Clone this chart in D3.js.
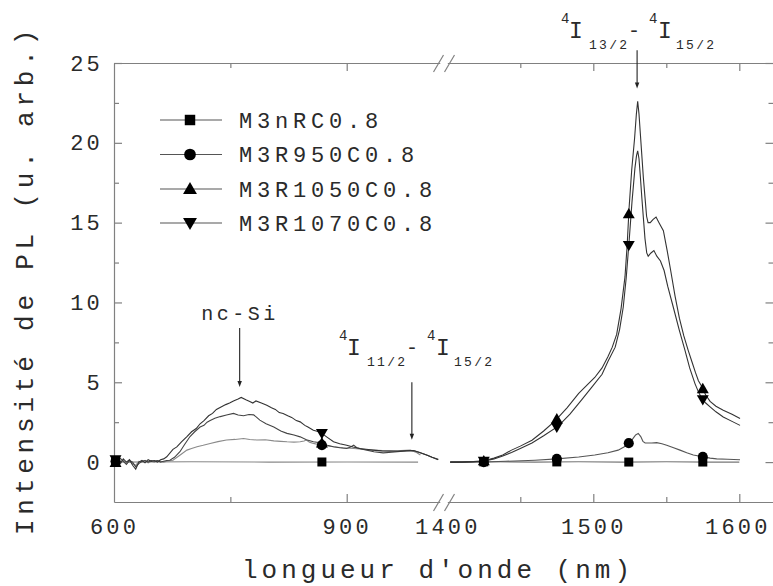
<!DOCTYPE html>
<html><head><meta charset="utf-8">
<script src="https://cdn.jsdelivr.net/npm/d3@7"></script>
<style>body{margin:0;background:#fff}svg{display:block}</style>
</head><body>
<svg id="c" width="773" height="586"></svg>
<script>
// ---------- data ----------
const seriesNames = ["M3nRC0.8", "M3R950C0.8", "M3R1050C0.8", "M3R1070C0.8"];
const seriesSymbols = ["square", "circle", "up", "down"];

// left panel (600 - 1020 nm)
const leftSquare = [[600,0],[700,0.02],[800,0],[900,0.01],[992,0]];
const leftCircle = [[600,-0.05],[604,0.15],[608,0],[612,0.1],[616,-0.1],[620,0.05],[624,-0.1],[628,-0.2],[632,0.05],[636,0],[640,0.1],[644,-0.05],[648,0.05],[652,0],[656,0.1],[660,0.05],[664,0],[668,0.05],[676,0.12],[684,0.4],[694,0.75],[700,0.85],[707,0.96],[715,1.05],[724,1.17],[734,1.28],[745,1.38],[756,1.42],[767,1.48],[775,1.42],[784,1.38],[795,1.4],[806,1.33],[815,1.3],[823,1.27],[832,1.25],[840,1.27],[845,1.32],[848,1.38],[852,1.25],[857,1.17],[868,1.06],[883,0.96],[895,0.9],[909,0.85],[920,0.8],[934,0.75],[946,0.72],[960,0.71],[970,0.73],[982,0.75],[990,0.6],[995,0.44]];
const leftUp = [[600,0.05],[604,-0.1],[608,0.25],[612,0.05],[616,-0.15],[620,0.1],[624,0],[628,-0.3],[632,-0.1],[636,0.05],[640,0.1],[644,0],[648,0.1],[652,0.05],[656,0.1],[660,0],[664,0.05],[668,0.1],[672,0.12],[678,0.3],[685,0.65],[691,1.1],[698,1.6],[704,1.9],[711,2.2],[716,2.3],[720,2.5],[724,2.6],[730,2.75],[737,2.85],[745,2.95],[754,3.05],[760,2.95],[767,2.9],[774,2.98],[780,2.96],[784,2.8],[788,2.63],[796,2.4],[806,2.2],[815,1.95],[823,1.8],[832,1.7],[840,1.58],[848,1.4],[857,1.27],[868,1.2],[875,1.05],[883,0.96],[891,0.9],[900,0.85],[905,0.95],[909,1.06],[913,0.9],[920,0.8],[926,0.75],[935,0.65],[947,0.58],[958,0.62],[969,0.67],[978,0.7],[986,0.72],[994,0.6],[1003,0.44],[1010,0.3],[1018,0.17]];
const leftDown = [[600,0],[604,0.3],[608,-0.1],[612,0.2],[616,0],[620,0.15],[624,-0.2],[628,-0.45],[632,0],[636,0.1],[640,-0.05],[644,0.15],[648,0.05],[652,0.1],[656,0],[660,0.15],[664,0.2],[668,0.33],[676,0.8],[681,0.95],[687,1.27],[694,1.6],[700,1.9],[706,2.1],[711,2.4],[716,2.6],[722,2.9],[727,3.05],[732,3.3],[738,3.45],[744,3.6],[749,3.7],[754,3.83],[760,3.95],[764,4.05],[770,3.9],[775,3.8],[779,3.7],[783,3.83],[790,3.7],[797,3.56],[803,3.4],[808,3.3],[813,3.1],[818,3.04],[824,2.9],[829,2.8],[835,2.6],[840,2.52],[846,2.3],[850,2.2],[857,2.0],[864,1.9],[868,1.8],[875,1.55],[883,1.27],[891,1.15],[900,1.06],[908,0.95],[917,0.85],[925,0.8],[934,0.75],[945,0.7],[956,0.69],[966,0.68],[977,0.71],[986,0.72],[994,0.6],[1003,0.44],[1010,0.3],[1018,0.15]];

// right panel (1400 - 1623 nm)
const rightSquare = [[1402,0],[1430,0.02],[1460,0],[1490,0.02],[1520,0],[1550,0.02],[1580,0],[1600,0]];
const rightCircle = [[1402,0],[1420,0.02],[1425,0],[1440,0.05],[1460,0.12],[1475,0.2],[1490,0.32],[1501,0.44],[1510,0.58],[1517,0.75],[1521,0.95],[1524.5,1.2],[1527,1.45],[1529,1.7],[1530.8,1.8],[1532.5,1.6],[1534,1.3],[1535.5,1.2],[1540,1.2],[1543.4,1.22],[1547,1.15],[1550.3,1.06],[1555,0.9],[1559.4,0.75],[1564,0.58],[1568.5,0.44],[1574.2,0.35],[1580,0.25],[1584.5,0.2],[1592,0.18],[1600.5,0.15]];
const rightUp = [[1402,0],[1410,0],[1418,0.03],[1425,0.08],[1432,0.25],[1438,0.45],[1444,0.75],[1450,1.0],[1458,1.37],[1466,1.95],[1474,2.6],[1482,3.4],[1490,4.3],[1496,4.85],[1501,5.3],[1506,5.9],[1510,6.6],[1513,7.2],[1516,8.0],[1519,9.6],[1521.7,11.6],[1523.2,13.6],[1524.5,15.9],[1526.3,18.3],[1528.3,20.3],[1529.5,21.8],[1530.4,22.6],[1531.3,21.8],[1532.2,20.6],[1533.1,19.4],[1534.3,17.8],[1535.4,16.6],[1536.5,15.4],[1537.5,15.0],[1539,15.0],[1541,15.2],[1543,15.35],[1545,15.0],[1548,14.5],[1550.5,13.3],[1553,12.0],[1556,10.4],[1559,9.0],[1562,7.9],[1565,7.0],[1567.5,6.3],[1570,5.6],[1572,5.1],[1574.2,4.75],[1577,4.2],[1580,3.8],[1584,3.5],[1589,3.25],[1595,3.0],[1600.5,2.73]];
const rightDown = [[1402,0],[1410,0],[1418,0.02],[1425,0.05],[1432,0.2],[1438,0.38],[1444,0.6],[1450,0.85],[1458,1.2],[1466,1.65],[1476,2.25],[1484,3.0],[1492,3.9],[1499,4.7],[1506,5.5],[1510,6.3],[1515,7.2],[1518,8.3],[1520.5,9.7],[1522.5,11.5],[1524.5,13.8],[1526.5,16.3],[1528.5,18.4],[1529.6,19.2],[1530.4,19.5],[1531.3,19.0],[1532.3,17.8],[1533.3,16.5],[1534.3,15.3],[1535.4,14.0],[1536.6,13.1],[1537.6,12.9],[1539.5,13.1],[1541.5,13.25],[1543.5,12.9],[1546,12.6],[1548.5,12.0],[1551,11.0],[1554.8,9.7],[1558.8,8.3],[1562.8,7.0],[1566,5.9],[1569.7,4.9],[1572,4.4],[1574.2,4.0],[1577,3.7],[1580,3.46],[1584,3.15],[1589,2.83],[1595,2.55],[1600.5,2.3]];

const markerNmLeft = [602, 868];
const markerNmRight = [1425, 1475, 1524.3, 1575];

const yMajorTicks = [0, 5, 10, 15, 20, 25];
const yMinorTicks = [2.5, 7.5, 12.5, 17.5, 22.5];
const xLeftMajor = [600, 900];
const xLeftMinor = [750];
const xRightMajor = [1400, 1500, 1600];
const xRightMinor = [1450, 1550];

// ---------- layout ----------
const svg = d3.select("#c");
const top_ = 63, bottom = 502, left = 114, right = 773.5;
const y = d3.scaleLinear().domain([-2.5, 25]).range([bottom, top_]);
const xL = d3.scaleLinear().domain([600, 1020]).range([left, left + 420 * 0.7757]);
const xR = d3.scaleLinear().domain([1400, 1623]).range([447.3, 447.3 + 223 * 1.46]);

const FONT = "'Liberation Mono', 'Courier New', monospace";
const axisColor = "#808080";
const textColor = "#2a2a2a";
const fmt = d3.format("d");

svg.append("rect").attr("width", 773).attr("height", 586).attr("fill", "#fff");

function styleAxis(g, withText) {
  g.selectAll("path.domain").attr("stroke", axisColor).attr("stroke-width", 1.2);
  g.selectAll(".tick line").attr("stroke", axisColor).attr("stroke-width", 1.2);
  if (withText) {
    g.selectAll("text").attr("font-family", FONT).attr("font-size", 22)
      .attr("letter-spacing", "3.2px").attr("fill", textColor);
  } else g.selectAll("text").remove();
}

// y axis left
const gyl = svg.append("g").attr("transform", `translate(${left},0)`)
  .call(d3.axisLeft(y).tickValues(yMajorTicks).tickFormat(fmt).tickSize(-8).tickSizeOuter(0).tickPadding(11));
styleAxis(gyl, true);
svg.append("g").attr("transform", `translate(${left},0)`)
  .call(d3.axisLeft(y).tickValues(yMinorTicks).tickSize(-5).tickSizeOuter(0).tickFormat(""))
  .call(g => { g.select(".domain").remove(); styleAxis(g, false); });
// y axis right (ticks only)
svg.append("g").attr("transform", `translate(${right},0)`)
  .call(d3.axisRight(y).tickValues(yMajorTicks).tickSize(-8).tickSizeOuter(0).tickFormat(""))
  .call(g => styleAxis(g, false));
svg.append("g").attr("transform", `translate(${right},0)`)
  .call(d3.axisRight(y).tickValues(yMinorTicks).tickSize(-5).tickSizeOuter(0).tickFormat(""))
  .call(g => { g.select(".domain").remove(); styleAxis(g, false); });

// x axes bottom & top, both panels
function xAxes(scale, major, minor) {
  const gb = svg.append("g").attr("transform", `translate(0,${bottom})`)
    .call(d3.axisBottom(scale).tickValues(major).tickFormat(fmt).tickSize(-8).tickSizeOuter(0).tickPadding(16));
  styleAxis(gb, true);
  gb.selectAll(".tick").filter(d => d === 1600).select("text").attr("dx", "-2px");
  gb.selectAll(".tick").filter(d => d === 1400 || d === 600).select("line").remove();
  svg.append("g").attr("transform", `translate(0,${bottom})`)
    .call(d3.axisBottom(scale).tickValues(minor).tickSize(-5).tickSizeOuter(0).tickFormat(""))
    .call(g => { g.select(".domain").remove(); styleAxis(g, false); });
  const gt = svg.append("g").attr("transform", `translate(0,${top_})`)
    .call(d3.axisTop(scale).tickValues(major).tickSize(-8).tickSizeOuter(0).tickFormat(""));
  styleAxis(gt, false);
  gt.selectAll(".tick").filter(d => d === 1400 || d === 600).select("line").remove();
  svg.append("g").attr("transform", `translate(0,${top_})`)
    .call(d3.axisTop(scale).tickValues(minor).tickSize(-5).tickSizeOuter(0).tickFormat(""))
    .call(g => { g.select(".domain").remove(); styleAxis(g, false); });
}
xAxes(xL, xLeftMajor, xLeftMinor);
xAxes(xR, xRightMajor, xRightMinor);

// axis break marks
[top_, bottom].forEach(yy => {
  [[433.5, 443.5], [444.5, 454.5]].forEach(([a, b]) => {
    svg.append("line").attr("x1", a).attr("y1", yy + 9).attr("x2", b).attr("y2", yy - 8)
      .attr("stroke", axisColor).attr("stroke-width", 1.2);
  });
});

// axis titles
svg.append("text").attr("x", 438).attr("y", 578).attr("text-anchor", "middle")
  .attr("font-family", FONT).attr("font-size", 26).attr("letter-spacing", "4px")
  .attr("fill", textColor).text("longueur d'onde (nm)");
svg.append("text").attr("transform", "translate(33,280) rotate(-90)").attr("text-anchor", "middle")
  .attr("font-family", FONT).attr("font-size", 26).attr("letter-spacing", "4.8px")
  .attr("fill", textColor).text("Intensité de PL (u. arb.)");

// ---------- curves ----------
const lineL = d3.line().x(d => xL(d[0])).y(d => y(d[1]));
const lineR = d3.line().x(d => xR(d[0])).y(d => y(d[1]));
const leftData = [leftSquare, leftCircle, leftUp, leftDown];
const rightData = [rightSquare, rightCircle, rightUp, rightDown];
const leftColors = ["#888", "#8a8a8a", "#444", "#333"];
const rightColors = ["#777", "#555", "#333", "#333"];
leftData.forEach((d, i) => svg.append("path").attr("d", lineL(d)).attr("fill", "none")
  .attr("stroke", leftColors[i]).attr("stroke-width", 1.1));
rightData.forEach((d, i) => svg.append("path").attr("d", lineR(d)).attr("fill", "none")
  .attr("stroke", rightColors[i]).attr("stroke-width", 1.1));

// ---------- markers ----------
function interp(data, nm) {
  for (let i = 0; i < data.length - 1; i++) {
    const [x0, y0] = data[i], [x1, y1] = data[i + 1];
    if (nm >= x0 && nm <= x1) return y0 + (y1 - y0) * (nm - x0) / (x1 - x0);
  }
  return data[data.length - 1][1];
}
function symPath(kind, s) {
  if (kind === "square") return d3.symbol(d3.symbolSquare, 81 * s)();
  if (kind === "circle") return d3.symbol(d3.symbolCircle, 80 * s)();
  return d3.symbol(d3.symbolTriangle, 62 * s)();
}
function drawMarker(kind, cx, cy, s) {
  const g = svg.append("path").attr("d", symPath(kind, s)).attr("fill", "#000");
  let t = `translate(${cx},${cy})`;
  if (kind === "up") t += " translate(0,1)";
  if (kind === "down") t += " translate(0,-1) rotate(180)";
  g.attr("transform", t);
}
seriesSymbols.forEach((kind, i) => {
  markerNmLeft.forEach(nm => drawMarker(kind, xL(nm), y(interp(leftData[i], nm)), 1));
  markerNmRight.forEach(nm => drawMarker(kind, xR(nm), y(interp(rightData[i], nm)), 1));
});

// ---------- legend ----------
const legendY = [120, 154.5, 189, 223];
seriesNames.forEach((name, i) => {
  svg.append("line").attr("x1", 160).attr("x2", 222).attr("y1", legendY[i]).attr("y2", legendY[i])
    .attr("stroke", "#555").attr("stroke-width", 1.1);
  drawMarker(seriesSymbols[i], 190, legendY[i], 1.35);
  svg.append("text").attr("x", 239).attr("y", legendY[i]).attr("dy", "0.36em")
    .attr("font-family", FONT).attr("font-size", 22).attr("letter-spacing", "4.8px")
    .attr("fill", textColor).text(name);
});

// ---------- annotations ----------
function arrow(x, y1, y2) {
  svg.append("line").attr("x1", x).attr("x2", x).attr("y1", y1).attr("y2", y2 - 5)
    .attr("stroke", "#222").attr("stroke-width", 1.1);
  svg.append("path").attr("d", `M${x - 2.2},${y2 - 6}L${x + 2.2},${y2 - 6}L${x},${y2}Z`).attr("fill", "#222");
}
svg.append("text").attr("x", 240).attr("y", 320).attr("text-anchor", "middle")
  .attr("font-family", FONT).attr("font-size", 20).attr("letter-spacing", "3.5px")
  .attr("fill", textColor).text("nc-Si");
arrow(xL(762), y(8.4), y(4.7));
arrow(xL(984), y(5.0), y(1.4));
arrow(xR(1530), y(25.8), y(23.4));

function transition(x0, base, lo, hi) {
  const t = svg.append("text").attr("font-family", FONT).attr("fill", textColor);
  const parts = [
    { s: "4", x: x0, y: base - 15, fs: 14, ls: 0 },
    { s: "I", x: x0 + 8, y: base, fs: 23, ls: 0 },
    { s: lo, x: x0 + 28, y: base + 11, fs: 13, ls: 2.3 },
    { s: "-", x: x0 + 67, y: base - 1, fs: 20, ls: 0 },
    { s: "4", x: x0 + 88, y: base - 15, fs: 14, ls: 0 },
    { s: "I", x: x0 + 97, y: base, fs: 23, ls: 0 },
    { s: hi, x: x0 + 115, y: base + 11, fs: 13, ls: 2.3 }
  ];
  parts.forEach(p => t.append("tspan").attr("x", p.x).attr("y", p.y).attr("font-size", p.fs)
    .attr("letter-spacing", p.ls + "px").text(p.s));
}
transition(561, 38, "13/2", "15/2");
transition(339, 355, "11/2", "15/2");
</script>
</body></html>
